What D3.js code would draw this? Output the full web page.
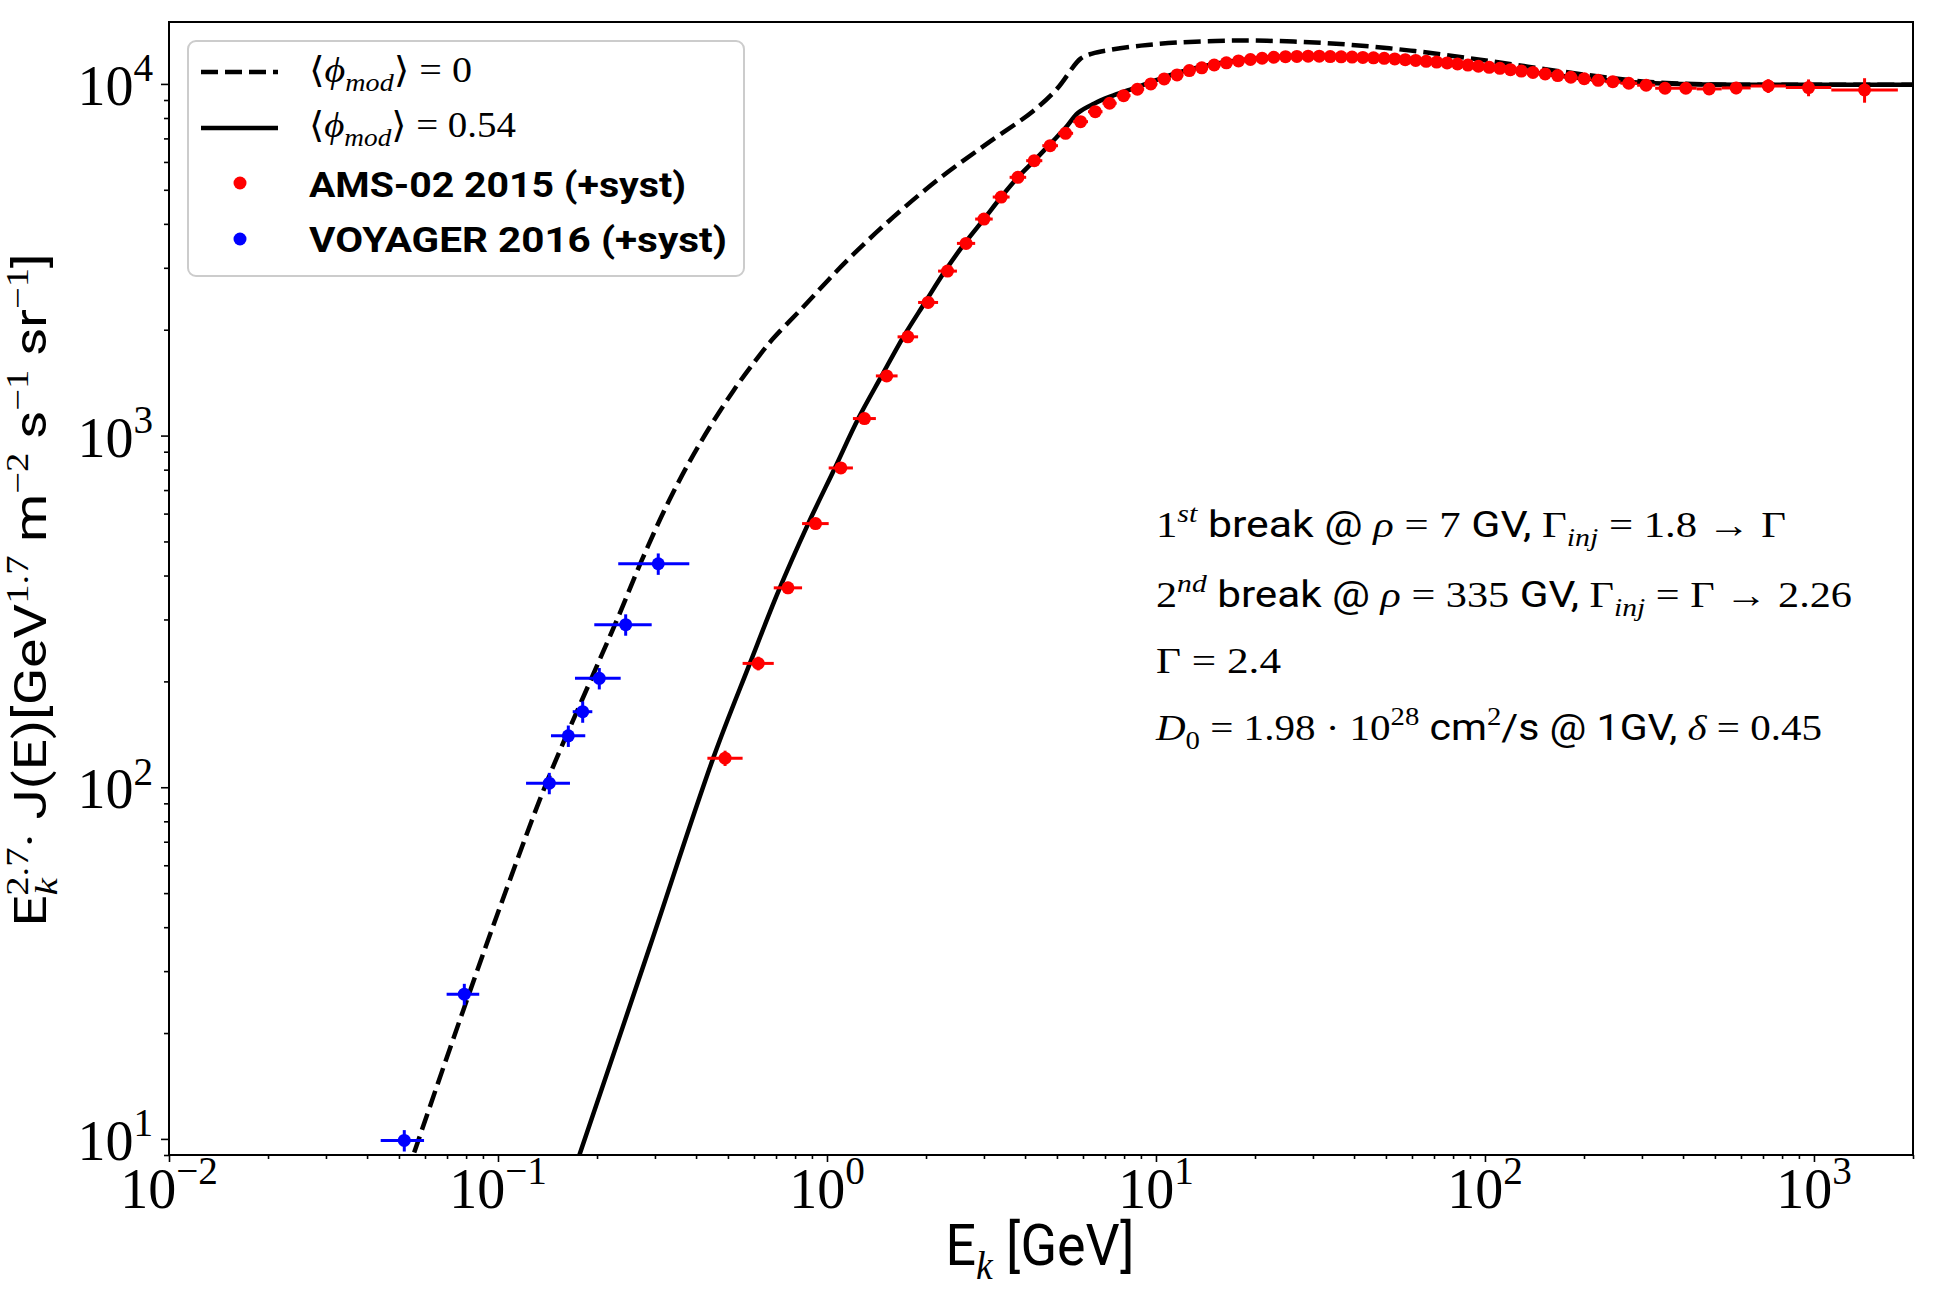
<!DOCTYPE html>
<html lang="en">
<head>
  <meta charset="UTF-8">
  <title>Proton spectrum</title>
  <style>
    body { margin: 0; background: #fff; }
    text { white-space: pre; }
  </style>
</head>
<body>
  <svg id="chart" width="1935" height="1299"></svg>
  <script src="https://cdn.jsdelivr.net/npm/d3@7/dist/d3.min.js"></script>
  <script>
    // AMS-02 2015 points (kinetic energy, bin edges, E^2.7 J, rel. error %)
    const amsE = [0.490, 0.618, 0.761, 0.923, 1.102, 1.300, 1.519, 1.761, 2.030, 2.325,
      2.647, 3.000, 3.385, 3.805, 4.266, 4.768, 5.311, 5.899, 6.538, 7.228,
      7.973, 8.778, 9.644, 10.59, 11.59, 12.63, 13.78, 15.03, 16.37, 17.82,
      19.37, 21.02, 22.81, 24.76, 26.81, 29.01, 31.35, 33.85, 36.55, 39.45,
      42.54, 45.84, 49.39, 53.19, 57.23, 61.58, 66.27, 71.32, 76.72, 82.51,
      88.76, 95.50, 103.0, 111.0, 119.5, 129.0, 139.9, 152.4, 166.4, 182.4,
      200.3, 220.8, 244.7, 273.6, 309.0, 352.7, 407.9, 480.2, 580.1, 726.1,
      962.8, 1425];
    const amsEdges = [0.433, 0.554, 0.689, 0.840, 1.012, 1.199, 1.408, 1.639, 1.892, 2.176,
      2.483, 2.821, 3.190, 3.590, 4.031, 4.513, 5.036, 5.599, 6.214, 6.878,
      7.594, 8.369, 9.205, 10.10, 11.10, 12.10, 13.19, 14.39, 15.69, 17.09,
      18.58, 20.18, 21.88, 23.78, 25.78, 27.88, 30.18, 32.58, 35.17, 37.97,
      40.97, 44.17, 47.57, 51.27, 55.17, 59.37, 63.87, 68.77, 73.97, 79.57,
      85.57, 92.07, 99.07, 107.1, 115.1, 124.1, 134.1, 146.1, 159.1, 174.1,
      191.1, 210.1, 232.1, 258.1, 290.1, 329.1, 378.1, 440.1, 524.1, 642.1,
      821.1, 1129, 1799];
    const amsJ = [121, 225, 369, 562, 809, 1118, 1478, 1909, 2391, 2936,
      3520, 4128, 4768, 5425, 6049, 6674, 7238, 7810, 8337, 8811,
      9262, 9658, 10000, 10333, 10608, 10915, 11115, 11318, 11480, 11625,
      11735, 11830, 11910, 11950, 11975, 11993, 11993, 11960, 11940, 11920,
      11897, 11865, 11826, 11782, 11720, 11660, 11597, 11535, 11472, 11394,
      11310, 11225, 11145, 11072, 10975, 10880, 10783, 10680, 10562, 10448,
      10343, 10240, 10150, 10046, 9915, 9722, 9722, 9678, 9741, 9869,
      9761, 9612];
    const amsErr = [5, 4.5, 4, 3.5, 3, 2.5, 2.5, 2.5, 2.5, 2.5,
      2, 2, 2, 2, 2, 2, 2, 2, 2, 2,
      2, 2, 2, 2, 2, 2, 2, 2, 2, 2,
      2, 2, 2, 2, 2, 2, 2, 2, 2, 2,
      2, 2, 2, 2, 2, 2, 2, 2, 2, 2,
      2, 2, 2, 2, 2, 2, 2, 2, 2, 2.5,
      2.5, 2.5, 2.5, 2.5, 3, 3, 3, 3.5, 4, 4.5,
      5.5, 8];

    // VOYAGER 2016 points
    const vgrE = [0.0519, 0.0790, 0.1432, 0.1636, 0.1809, 0.2032, 0.2444, 0.307];
    const vgrElo = [0.0440, 0.0698, 0.1217, 0.1449, 0.1687, 0.1714, 0.1962, 0.232];
    const vgrEhi = [0.0596, 0.0877, 0.1655, 0.1842, 0.1935, 0.236, 0.2932, 0.3815];
    const vgrJ = [9.9, 25.8, 102.7, 140, 164, 204, 290, 432];
    const vgrErr = [7, 7, 7, 7, 7, 7, 7, 7];

    // model curves: phi = 0 (dashed) and phi = 0.54 (solid)
    const lisE = [0.05, 0.0553, 0.0784, 0.1063, 0.141, 0.195, 0.232, 0.273, 0.333, 0.411,
      0.519, 0.626, 0.687, 0.828, 1.148, 1.59, 2.205, 3.058, 4.238, 5.0,
      5.9, 6.4, 7.25, 9.0, 11.56, 17.35, 26.2, 39.4, 59.5, 89.7,
      135, 204, 307, 464, 700, 1055, 2000];
    const lisJ = [6.8, 9.0, 23.2, 51.5, 104, 210, 305, 440, 660, 950,
      1340, 1700, 1890, 2270, 3140, 4180, 5400, 6750, 8380, 9680,
      11800, 12200, 12498, 12850, 13110, 13285, 13197, 12912, 12436, 11835,
      11200, 10607, 10151, 9970, 9950, 9950, 9950];
    const modE = [0.17, 0.1775, 0.2897, 0.451, 0.583, 0.711, 0.877, 1.057, 1.245, 1.466,
      1.707, 1.986, 2.284, 2.62, 3.0, 3.385, 3.805, 4.266, 4.768, 5.311,
      5.80, 6.5, 7.25, 8.78, 10, 11.5, 14, 17, 20, 25,
      30, 40, 50, 70, 100, 150, 200, 300, 500, 1000, 2000];
    const modJ = [8.1, 9.1, 35.3, 121, 225, 360, 562, 809, 1118, 1478,
      1909, 2391, 2936, 3520, 4128, 4768, 5425, 6049, 6750, 7500,
      8280, 8800, 9200, 9800, 10250, 10725, 11250, 11600, 11820, 11960,
      12000, 11930, 11830, 11560, 11200, 10700, 10380, 10080, 9960, 9950, 9950];

    const xMajor = [0.01, 0.1, 1, 10, 100, 1000];
    const xExp = ["−2", "−1", "0", "1", "2", "3"];
    const yMajor = [10, 100, 1000, 10000];
    const yExp = ["1", "2", "3", "4"];

    const RM = '"Liberation Serif", "DejaVu Serif", serif';
    const SS = '"Roboto", "Liberation Sans", sans-serif';

    const m = {l: 169, r: 1913, t: 22, b: 1155};
    const svg = d3.select("#chart");
    const x = d3.scaleLog().domain([0.01, 2000]).range([m.l, m.r]);
    const y = d3.scaleLog().domain([9, 15000]).range([m.b, m.t]);

    // text with mixed fonts, sub/superscripts
    function rich(parent, px, py, size, parts, anchor, len) {
      const t = parent.append("text").attr("x", px).attr("y", py)
        .attr("font-size", size).attr("text-anchor", anchor || "start");
      let cur = 0;
      parts.forEach(p => {
        const sc = p.pos ? 0.7 : 1;
        const off = p.pos === "sup" ? -0.42 * size : p.pos === "sub" ? 0.24 * size : 0;
        const ts = t.append("tspan").attr("dy", off - cur)
          .attr("font-size", size * sc)
          .attr("font-family", p.f === "ss" || p.f === "ssb" ? SS : RM)
          .attr("font-style", p.f === "it" ? "italic" : "normal")
          .attr("font-weight", p.f === "ssb" ? "bold" : "normal")
          .text(p.t);
        if (p.dx) ts.attr("dx", p.dx);
        cur = off;
      });
      if (len) t.attr("textLength", len).attr("lengthAdjust", "spacingAndGlyphs");
      return t;
    }

    svg.append("defs").append("clipPath").attr("id", "plot")
      .append("rect").attr("x", m.l).attr("y", m.t)
      .attr("width", m.r - m.l).attr("height", m.b - m.t);

    // ticks
    const isMajor = v => Math.abs(Math.log10(v) - Math.round(Math.log10(v))) < 1e-9;
    const xMinor = x.ticks().filter(v => !isMajor(v));
    const yMinor = y.ticks().filter(v => !isMajor(v));

    function tickGroup(axis) {
      const g = svg.append("g").call(axis);
      g.select(".domain").remove();
      g.selectAll("line").attr("stroke", "#000").attr("stroke-width", 1.6);
      return g;
    }
    tickGroup(d3.axisBottom(x).tickValues(xMinor).tickSize(4).tickFormat(""))
      .attr("transform", `translate(0,${m.b})`);
    tickGroup(d3.axisBottom(x).tickValues(xMajor).tickSize(7).tickFormat(""))
      .attr("transform", `translate(0,${m.b})`);
    tickGroup(d3.axisLeft(y).tickValues(yMinor).tickSize(5).tickFormat(""))
      .attr("transform", `translate(${m.l},0)`);
    tickGroup(d3.axisLeft(y).tickValues(yMajor).tickSize(8).tickFormat(""))
      .attr("transform", `translate(${m.l},0)`);

    const labels = svg.append("g");
    xMajor.forEach((v, i) => {
      rich(labels, x(v), 1208, 56, [{t: "10", f: "rm"}, {t: xExp[i], f: "rm", pos: "sup"}], "middle");
    });
    yMajor.forEach((v, i) => {
      rich(labels, 153, y(v) + 21, 56, [{t: "10", f: "rm"}, {t: yExp[i], f: "rm", pos: "sup"}], "end");
    });

    // axis titles
    rich(labels, 1040, 1265, 57, [
      {t: "E", f: "ss"}, {t: "k", f: "it", pos: "sub"}, {t: " [GeV]", f: "ss"}
    ], "middle", 189);

    const yl = labels.append("g").attr("transform", "translate(46,590) rotate(-90)");
    rich(yl, 0, 0, 44, [
      {t: "E", f: "ss"}, {t: "k", f: "it", pos: "sub"}, {t: "2.7", f: "rm", pos: "sup", dx: -14},
      {t: "· J(E)[GeV", f: "ss"}, {t: "1.7", f: "rm", pos: "sup"},
      {t: " m", f: "ss"}, {t: "−2", f: "rm", pos: "sup"},
      {t: " s", f: "ss"}, {t: "−1", f: "rm", pos: "sup"},
      {t: " sr", f: "ss"}, {t: "−1", f: "rm", pos: "sup"}, {t: "]", f: "ss"}
    ], "middle", 673);

    // curves
    const plot = svg.append("g").attr("clip-path", "url(#plot)");
    const line = d3.line().x(d => x(d[0])).y(d => y(d[1])).curve(d3.curveCatmullRom.alpha(0.5));
    plot.append("path").datum(lisE.map((e, i) => [e, lisJ[i]]))
      .attr("d", line).attr("fill", "none").attr("stroke", "#000")
      .attr("stroke-width", 4.5).attr("stroke-dasharray", "17,7");
    plot.append("path").datum(modE.map((e, i) => [e, modJ[i]]))
      .attr("d", line).attr("fill", "none").attr("stroke", "#000")
      .attr("stroke-width", 4.5);

    // data with error bars
    function points(rows, color) {
      const g = plot.append("g");
      g.selectAll("line.h").data(rows).enter().append("line")
        .attr("x1", d => x(d.lo)).attr("x2", d => x(d.hi))
        .attr("y1", d => y(d.j)).attr("y2", d => y(d.j))
        .attr("stroke", color).attr("stroke-width", 3);
      g.selectAll("line.v").data(rows).enter().append("line")
        .attr("x1", d => x(d.e)).attr("x2", d => x(d.e))
        .attr("y1", d => y(d.j * (1 - d.err / 100))).attr("y2", d => y(d.j * (1 + d.err / 100)))
        .attr("stroke", color).attr("stroke-width", 3);
      g.selectAll("circle").data(rows).enter().append("circle")
        .attr("cx", d => x(d.e)).attr("cy", d => y(d.j)).attr("r", 6.5)
        .attr("fill", color);
    }
    points(amsE.map((e, i) => ({e, lo: amsEdges[i], hi: amsEdges[i + 1], j: amsJ[i], err: amsErr[i]})), "#ff0000");
    points(vgrE.map((e, i) => ({e, lo: vgrElo[i], hi: vgrEhi[i], j: vgrJ[i], err: vgrErr[i]})), "#0000ff");

    // frame
    svg.append("rect").attr("x", m.l).attr("y", m.t)
      .attr("width", m.r - m.l).attr("height", m.b - m.t)
      .attr("fill", "none").attr("stroke", "#000").attr("stroke-width", 2);

    // legend
    const lg = svg.append("g");
    lg.append("rect").attr("x", 188).attr("y", 41).attr("width", 556).attr("height", 235)
      .attr("rx", 8).attr("fill", "#fff").attr("fill-opacity", 0.8)
      .attr("stroke", "#cccccc").attr("stroke-width", 2);
    lg.append("line").attr("x1", 201).attr("x2", 278).attr("y1", 72).attr("y2", 72)
      .attr("stroke", "#000").attr("stroke-width", 4.5).attr("stroke-dasharray", "17,7");
    lg.append("line").attr("x1", 201).attr("x2", 278).attr("y1", 128).attr("y2", 128)
      .attr("stroke", "#000").attr("stroke-width", 4.5);
    lg.append("circle").attr("cx", 240).attr("cy", 183).attr("r", 6.5).attr("fill", "#ff0000");
    lg.append("circle").attr("cx", 240).attr("cy", 239).attr("r", 6.5).attr("fill", "#0000ff");
    rich(lg, 309, 82, 36, [{t: "⟨", f: "rm"}, {t: "ϕ", f: "it"}, {t: "mod", f: "it", pos: "sub"}, {t: "⟩ = 0", f: "rm"}], "start", 163);
    rich(lg, 309, 137, 36, [{t: "⟨", f: "rm"}, {t: "ϕ", f: "it"}, {t: "mod", f: "it", pos: "sub"}, {t: "⟩ = 0.54", f: "rm"}], "start", 207);
    rich(lg, 309, 197, 35, [{t: "AMS-02 2015 (+syst)", f: "ssb"}], "start", 377);
    rich(lg, 309, 252, 35, [{t: "VOYAGER 2016 (+syst)", f: "ssb"}], "start", 418);

    // annotation
    const an = svg.append("g");
    rich(an, 1156, 537, 36, [
      {t: "1", f: "rm"}, {t: "st", f: "it", pos: "sup"}, {t: " break @ ", f: "ss"},
      {t: "ρ", f: "it"}, {t: " = 7 ", f: "rm"}, {t: "GV, ", f: "ss"},
      {t: "Γ", f: "rm"}, {t: "inj", f: "it", pos: "sub"}, {t: " = 1.8 → Γ", f: "rm"}
    ], "start", 630);
    rich(an, 1156, 607, 36, [
      {t: "2", f: "rm"}, {t: "nd", f: "it", pos: "sup"}, {t: " break @ ", f: "ss"},
      {t: "ρ", f: "it"}, {t: " = 335 ", f: "rm"}, {t: "GV, ", f: "ss"},
      {t: "Γ", f: "rm"}, {t: "inj", f: "it", pos: "sub"}, {t: " = Γ → 2.26", f: "rm"}
    ], "start", 696);
    rich(an, 1156, 673, 36, [{t: "Γ = 2.4", f: "rm"}], "start", 125);
    rich(an, 1156, 740, 36, [
      {t: "D", f: "it"}, {t: "0", f: "rm", pos: "sub"}, {t: " = 1.98 · 10", f: "rm"},
      {t: "28", f: "rm", pos: "sup"}, {t: " cm", f: "ss"}, {t: "2", f: "rm", pos: "sup"},
      {t: "/s @ 1GV, ", f: "ss"}, {t: "δ", f: "it"}, {t: " = 0.45", f: "rm"}
    ], "start", 666);
  </script>
</body>
</html>
